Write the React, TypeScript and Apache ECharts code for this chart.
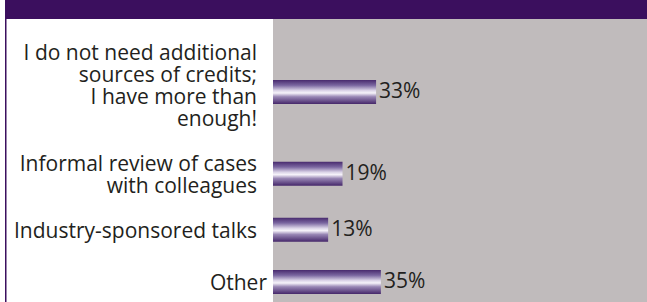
import React, { useEffect, useRef } from "react";
import * as echarts from "echarts";

const categories: string[] = [
  "I do not need additional\nsources of credits;\nI have more than\nenough!",
  "Informal review of cases\nwith colleagues",
  "Industry-sponsored talks",
  "Other",
];
const values: number[] = [33, 19, 13, 35];

const X_MIN = -10;
const X_MAX = 146;
const PURPLE = "#3b0f5e";
const GREY = "#c0bbbc";
const TEXT = "#231f20";
const FONT = "'Open Sans', 'Noto Sans', sans-serif";
const FS = 21;

const gridCenters = [92, 173.7, 229.7, 282];
// label centres (first label block sits a little above its bar)
const labelCenters = [84.5, 173.7, 229.7, 282];
const labelMargins = [16, 16, 16, 6];

export default function App() {
  const ref = useRef<HTMLDivElement>(null);
  useEffect(() => {
    if (!ref.current) return;
    const chart = echarts.init(ref.current, undefined, { renderer: "svg" });
    const grad = () =>
      new echarts.graphic.LinearGradient(0, 0, 0, 1, [
        { offset: 0, color: "#482a6e" },
        { offset: 0.22, color: "#7a66a0" },
        { offset: 0.44, color: "#dcd5e8" },
        { offset: 0.54, color: "#f6f3fa" },
        { offset: 0.7, color: "#9886b4" },
        { offset: 1, color: "#45276a" },
      ]);
    const n = categories.length;
    // bar grids (0..n-1) + label grids (n..2n-1)
    const grids: any[] = [];
    const xAxes: any[] = [];
    const yAxes: any[] = [];
    for (let i = 0; i < n; i++) {
      grids.push({ left: 273, right: 0, top: gridCenters[i] - 20, height: 40 });
      xAxes.push({ type: "value", gridIndex: i, min: X_MIN, max: X_MAX, show: false });
      yAxes.push({
        type: "category",
        gridIndex: i,
        data: [categories[i]],
        axisLine: { show: false },
        axisTick: { show: false },
        splitLine: { show: false },
        axisLabel: { show: false },
      });
    }
    for (let i = 0; i < n; i++) {
      const g = n + i;
      grids.push({ left: 273, right: 0, top: labelCenters[i] - 20, height: 40 });
      xAxes.push({ type: "value", gridIndex: g, min: X_MIN, max: X_MAX, show: false });
      yAxes.push({
        type: "category",
        gridIndex: g,
        data: [categories[i]],
        axisLine: { show: false },
        axisTick: { show: false },
        splitLine: { show: false },
        axisLabel: {
          fontSize: FS,
          fontFamily: FONT,
          color: TEXT,
          lineHeight: 22,
          margin: labelMargins[i],
          align: "right",
        },
      });
    }
    const series = categories.map((c, i) => ({
      type: "custom",
      name: c,
      xAxisIndex: i,
      yAxisIndex: i,
      data: [[values[i], 0]],
      encode: { x: 0, y: 1 },
      renderItem: (params: any, api: any) => {
        const v = api.value(0);
        const cat = api.value(1);
        const end = api.coord([v, cat]);
        const start = api.coord([X_MIN, cat]);
        return {
          type: "rect",
          shape: { x: start[0], y: end[1] - 12, width: end[0] - start[0], height: 24 },
          style: { fill: grad() },
          textContent: {
            style: {
              text: v + "%",
              fill: TEXT,
              fontSize: FS,
              fontFamily: FONT,
            },
          },
          textConfig: { position: "right", distance: 3, offset: [0, -2] },
        };
      },
    }));
    chart.setOption({
      animation: false,
      grid: grids,
      xAxis: xAxes,
      yAxis: yAxes,
      series,
      graphic: [
        { type: "rect", z: 0, silent: true, shape: { x: 273, y: 19, width: 374, height: 283 }, style: { fill: GREY } },
        { type: "rect", z: 0, silent: true, shape: { x: 5, y: 0, width: 642, height: 19 }, style: { fill: PURPLE } },
        { type: "rect", z: 0, silent: true, shape: { x: 5, y: 0, width: 1.5, height: 302 }, style: { fill: PURPLE } },
      ],
    });
    return () => chart.dispose();
  }, []);
  return (
    <div
      ref={ref}
      style={{ position: "fixed", left: 0, top: 0, width: 647, height: 302, background: "#ffffff" }}
    />
  );
}
